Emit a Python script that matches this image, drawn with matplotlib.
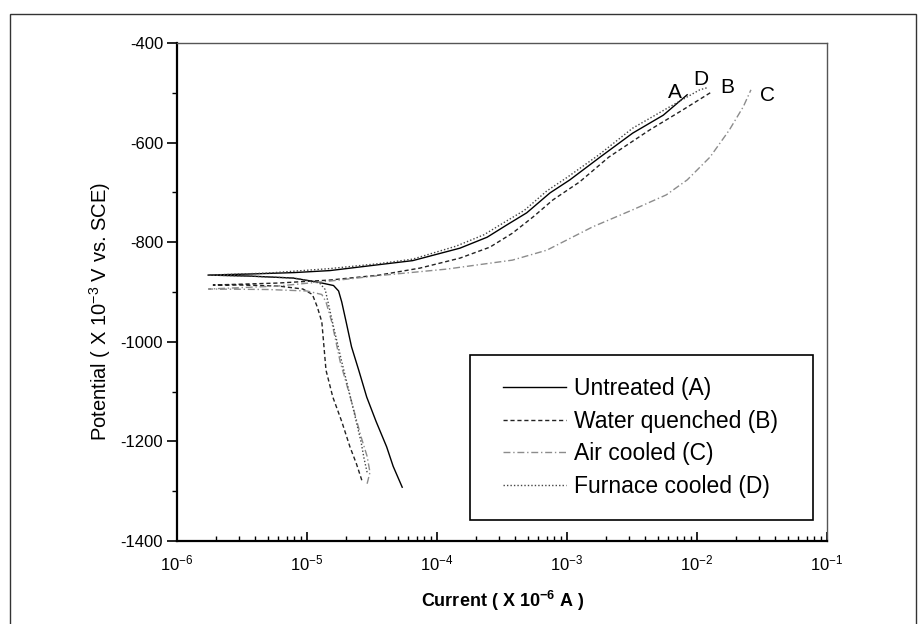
import matplotlib
matplotlib.use("Agg")
import matplotlib.pyplot as plt
from matplotlib.patches import Rectangle
from matplotlib.ticker import LogLocator, MultipleLocator, NullFormatter

plt.rcParams['font.family'] = ['Liberation Sans', 'DejaVu Sans']
plt.rcParams['mathtext.fontset'] = 'custom'
plt.rcParams['mathtext.rm'] = 'Liberation Sans'
plt.rcParams['mathtext.it'] = 'Liberation Sans:italic'
plt.rcParams['mathtext.bf'] = 'Liberation Sans:bold'
plt.rcParams['axes.unicode_minus'] = False

# ---- data (current as plotted on the axis, potential in mV vs SCE) ----
labels = ["Untreated (A)", "Water quenched (B)", "Air cooled (C)", "Furnace cooled (D)"]
tags = ["A", "B", "C", "D"]

current_A = [5.4e-5, 4.6e-5, 4.1e-5, 3.4e-5, 2.88e-5, 2.5e-5, 2.2e-5, 2.0e-5, 1.85e-5, 1.75e-5,
             1.6e-5, 1.2e-5, 7.8e-6, 3.6e-6, 1.73e-6,
             3.5e-6, 8e-6, 1.5e-5, 3.6e-5, 6.5e-5, 1.5e-4, 2.43e-4, 3.46e-4, 4.9e-4, 7.4e-4,
             1.05e-3, 1.8e-3, 3.2e-3, 5.5e-3, 8.4e-3]
potential_A = [-1292, -1250, -1211, -1160, -1111, -1057, -1010, -960, -920, -898,
               -887, -880, -872, -868, -866,
               -864, -861, -857, -845, -837, -812, -790, -765, -741, -701,
               -675, -629, -581, -545, -504]

current_B = [2.64e-5, 2.4e-5, 2.14e-5, 1.85e-5, 1.58e-5, 1.4e-5, 1.3e-5, 1.2e-5, 1.1e-5, 9.3e-6,
             6e-6, 3e-6, 1.9e-6,
             6e-6, 1.5e-5, 3.6e-5, 7.4e-5, 1.5e-4, 2.55e-4, 3.8e-4, 5.5e-4, 7.8e-4,
             1.25e-3, 2.1e-3, 4.3e-3, 7.7e-3, 1.3e-2]
potential_B = [-1278, -1245, -1211, -1160, -1111, -1057, -960, -930, -905, -894,
               -888, -886, -886,
               -882, -876, -866, -852, -832, -810, -782, -749, -715,
               -679, -629, -575, -535, -498]

current_C = [2.9e-5, 3.05e-5, 2.9e-5, 2.6e-5, 2.2e-5, 1.8e-5, 1.55e-5, 1.4e-5, 1.3e-5, 1.0e-5,
             5e-6, 1.75e-6,
             6e-6, 1.5e-5, 3.6e-5, 1.19e-4, 3.8e-4, 7.0e-4, 1.58e-3, 3.2e-3, 5.8e-3,
             8.4e-3, 1.26e-2, 1.77e-2, 2.27e-2, 2.6e-2]
potential_C = [-1285, -1262, -1230, -1190, -1120, -1040, -960, -920, -905, -898,
               -895, -894,
               -888, -878, -867, -854, -836, -816, -769, -735, -705,
               -675, -629, -575, -528, -494]

current_D = [2.9e-5, 2.75e-5, 2.6e-5, 2.2e-5, 1.85e-5, 1.6e-5, 1.45e-5, 1.38e-5, 1.25e-5, 8e-6,
             3.5e-6, 1.75e-6,
             5e-6, 1.5e-5, 3.6e-5, 6.5e-5, 1.4e-4, 2.3e-4, 3.3e-4, 4.7e-4, 7.0e-4,
             1.0e-3, 1.75e-3, 3.2e-3, 5.9e-3, 1.05e-2, 1.19e-2]
potential_D = [-1262, -1235, -1200, -1120, -1040, -970, -920, -895, -882, -872,
               -868, -866,
               -862, -853, -843, -834, -808, -785, -760, -736, -697,
               -670, -625, -571, -531, -494, -490]

x_limits = [1e-6, 1e-1]
y_limits = [-1400, -400]

# ---- figure ----
W, H = 919, 624
fig = plt.figure(figsize=(W / 100, H / 100), dpi=100)
fig.patch.set_facecolor('white')

# outer frame of the scanned figure
fig.add_artist(Rectangle((10 / W, -0.02), (916 - 10) / W, 1.02 - 14 / H,
                         transform=fig.transFigure, fill=False,
                         edgecolor='#333333', linewidth=1.0))

ax = fig.add_axes([177 / W, (H - 541) / H, 650 / W, (541 - 43) / H])

series = [
    (current_A, potential_A, dict(color='black', lw=1.0, linestyle='-')),
    (current_B, potential_B, dict(color='#222222', lw=1.0, dashes=(3, 2))),
    (current_C, potential_C, dict(color='#8c8c8c', lw=1.0, dashes=(5, 2, 1, 2))),
    (current_D, potential_D, dict(color='#444444', lw=1.0, dashes=(1, 1.5))),
]
lines = []
for (cx, py, st), lab in zip(series, labels):
    ln, = ax.plot(cx, py, label=lab, **st)
    lines.append(ln)

# end-of-curve letter labels (offsets in points)
offsets = [(-9, 2), (11, 3), (12, -4), (-4, 6)]
for (cx, py, st), tag, off in zip(series, tags, offsets):
    ax.annotate(tag, xy=(cx[-1], py[-1]), xytext=off, textcoords='offset points',
                ha='center', va='center', fontsize=15)

ax.set_xscale('log')
ax.set_xlim(*x_limits)
ax.set_ylim(*y_limits)

ax.xaxis.set_major_locator(LogLocator(base=10, numticks=10))
ax.xaxis.set_minor_locator(LogLocator(base=10, subs=range(2, 10), numticks=20))
ax.xaxis.set_minor_formatter(NullFormatter())
ax.yaxis.set_major_locator(MultipleLocator(200))
ax.yaxis.set_minor_locator(MultipleLocator(100))

ax.tick_params(axis='x', which='major', direction='in', length=6.5, width=1.2,
               labelsize=12, pad=9, top=False)
ax.tick_params(axis='x', which='minor', direction='in', length=3.5, width=1.0, top=False)
ax.tick_params(axis='y', which='major', direction='out', length=7, width=1.2,
               labelsize=12, pad=3, right=False)
ax.tick_params(axis='y', which='minor', direction='out', length=3.5, width=1.0, right=False)

for s in ['left', 'bottom']:
    ax.spines[s].set_linewidth(1.6)
    ax.spines[s].set_color('black')
for s in ['top', 'right']:
    ax.spines[s].set_linewidth(1.0)
    ax.spines[s].set_color('#555555')

fig.text(100 / W, 1 - 311 / H, r"Potential ( X 10$^{-3}$ V vs. SCE)", rotation=90,
         ha='center', va='center', fontsize=14.5)
fig.text(503 / W, 1 - 601 / H, r"Current ( X 10$^{\mathbf{-6}}$ A )",
         ha='center', va='center', fontsize=13, fontweight='bold')

# legend box (frame drawn separately to match the original padding)
ax.add_patch(Rectangle(((470 - 177) / 650, (541 - 520) / 498),
                       (813 - 470) / 650, (520 - 355) / 498,
                       transform=ax.transAxes, fill=True, facecolor='white',
                       edgecolor='black', linewidth=1.2, zorder=4))
leg = ax.legend(handles=lines, loc='upper left',
                bbox_to_anchor=((503 - 177) / 650, (541 - 377) / 498),
                borderaxespad=0, borderpad=0, fontsize=16.5, frameon=False,
                handlelength=2.75, handletextpad=0.35, labelspacing=0.42)
leg.set_zorder(5)

fig.savefig('out.png', dpi=100, facecolor='white')
